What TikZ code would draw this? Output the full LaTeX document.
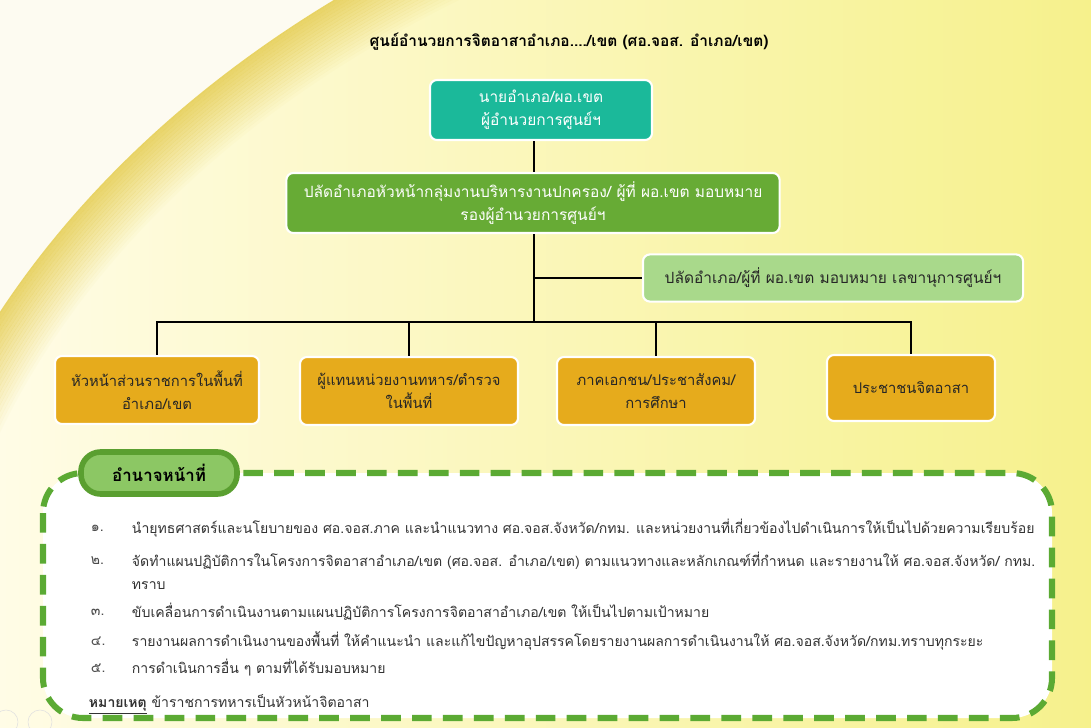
\documentclass[tikz,border=0pt]{standalone}
\usepackage{fontspec}
\newfontfamily\thaifont[Script=Thai]{Loma}
\usetikzlibrary{positioning,backgrounds}

\definecolor{paperbg}{HTML}{FDFBF1}
\definecolor{creambg}{HTML}{FFFCE6}
\definecolor{yellowbg}{HTML}{F6F18C}
\definecolor{rimgold}{HTML}{E6CF5A}
\definecolor{headteal}{HTML}{1BB99A}
\definecolor{deputygreen}{HTML}{67AB35}
\definecolor{secgreen}{HTML}{A9D98B}
\definecolor{memberorange}{HTML}{E6AB1C}
\definecolor{dashgreen}{HTML}{5BAA33}
\definecolor{pillgreen}{HTML}{8CC764}
\definecolor{pillrim}{HTML}{5A9F30}

\begin{document}
\begin{tikzpicture}[
  x=0.025cm, y=-0.025cm,
  every node/.style={font=\thaifont\fontsize{11}{16.5}\selectfont},
  unit/.style={draw=white, line width=1.5pt, rounded corners=5pt, align=center, inner sep=2pt},
  member/.style={unit, fill=memberorange, text=black!85, minimum height=1.7cm, font=\thaifont\fontsize{10.5}{16}\selectfont},
  link/.style={line width=2pt, black},
  pill/.style={draw=pillrim, fill=pillgreen, line width=4pt, rounded corners=14pt, minimum width=3.9cm, minimum height=1.05cm, font=\thaifont\bfseries\fontsize{12}{14}\selectfont},
  num/.style={anchor=west, text=black!70, font=\thaifont\fontsize{10}{12}\selectfont},
  item/.style={anchor=west, text=black!80, font=\thaifont\fontsize{10}{12}\selectfont}
]
\useasboundingbox (0,0) rectangle (1091,728);
\clip (0,0) rectangle (1091,728);

% background with the golden arc
\fill[paperbg] (0,0) rectangle (1091,728);
\begin{scope}
  \clip (1091,728) ellipse[x radius=30.5cm, y radius=23.2cm];
  \shade[left color=creambg, middle color=creambg, right color=yellowbg] (0,0) rectangle (1091,728);
  \foreach \k in {0,...,19} {
    \pgfmathsetmacro\op{0.9-0.045*\k}
    \draw[rimgold, opacity=\op, line width=2.3pt] (1091,728) ellipse[x radius=30.5cm-\k*2.2pt, y radius=23.2cm-\k*2.2pt];
  }
\end{scope}
\draw[black!12] (6,722) circle[radius=0.3cm];
\draw[black!12] (40,722) circle[radius=0.3cm];

% title
\node[font=\thaifont\bfseries\fontsize{11}{13}\selectfont] (title) at (569,42) {ศูนย์อำนวยการจิตอาสาอำเภอ..../เขต (ศอ.จอส. อำเภอ/เขต)};

% chart
\node[unit, fill=headteal, text=white, minimum width=5.55cm, minimum height=1.5cm] (head) at (541,110) {นายอำเภอ/ผอ.เขต\\ผู้อำนวยการศูนย์ฯ};
\node[unit, fill=deputygreen, text=white, minimum width=12.33cm, minimum height=1.5cm] (deputy) at (533,203) {ปลัดอำเภอหัวหน้ากลุ่มงานบริหารงานปกครอง/ ผู้ที่ ผอ.เขต มอบหมาย\\รองผู้อำนวยการศูนย์ฯ};
\node[unit, fill=secgreen, text=black!85, minimum width=9.5cm, minimum height=1.18cm] (secretary) at (833,278) {ปลัดอำเภอ/ผู้ที่ ผอ.เขต มอบหมาย เลขานุการศูนย์ฯ};

\node[member, minimum width=5.1cm] (gov) at (157,390) {หัวหน้าส่วนราชการในพื้นที่\\อำเภอ/เขต};
\node[member, minimum width=5.45cm] (army) at (409,391) {ผู้แทนหน่วยงานทหาร/ตำรวจ\\ในพื้นที่};
\node[member, minimum width=4.95cm] (civil) at (656,391) {ภาคเอกชน/ประชาสังคม/\\การศึกษา};
\node[member, minimum width=4.2cm, minimum height=1.65cm] (people) at (911,388) {ประชาชนจิตอาสา};

\coordinate (bus) at (534,322);
\draw[link] (bus |- head.south) -- (bus |- deputy.north);
\draw[link] (bus |- deputy.south) -- (bus);
\draw[link] (bus |- secretary.west) -- (secretary.west);
\draw[link] (gov.north) |- (bus) -| (people.north);
\draw[link] (army.north) -- (army.north |- bus);
\draw[link] (civil.north) -- (civil.north |- bus);

% duties
\draw[draw=dashgreen, fill=white, line width=4.3pt, dash pattern=on 14pt off 8pt, rounded corners=1cm] (43,473) rectangle (1052,718);
\node[pill] (duty) at (159,473) {อำนาจหน้าที่};

\node[num] (n1) at (86,528) {๑.};
\node[item] (t1) at (127,528) {นำยุทธศาสตร์และนโยบายของ ศอ.จอส.ภาค และนำแนวทาง ศอ.จอส.จังหวัด/กทม. และหน่วยงานที่เกี่ยวข้องไปดำเนินการให้เป็นไปด้วยความเรียบร้อย};
\node[num] (n2) at (86,561) {๒.};
\node[item] (t2) at (127,561) {จัดทำแผนปฏิบัติการในโครงการจิตอาสาอำเภอ/เขต (ศอ.จอส. อำเภอ/เขต) ตามแนวทางและหลักเกณฑ์ที่กำหนด และรายงานให้ ศอ.จอส.จังหวัด/ กทม.};
\node[item] (t2b) at (127,586) {ทราบ};
\node[num] (n3) at (86,612) {๓.};
\node[item] (t3) at (127,612) {ขับเคลื่อนการดำเนินงานตามแผนปฏิบัติการโครงการจิตอาสาอำเภอ/เขต ให้เป็นไปตามเป้าหมาย};
\node[num] (n4) at (86,641) {๔.};
\node[item] (t4) at (127,641) {รายงานผลการดำเนินงานของพื้นที่ ให้คำแนะนำ และแก้ไขปัญหาอุปสรรคโดยรายงานผลการดำเนินงานให้ ศอ.จอส.จังหวัด/กทม.ทราบทุกระยะ};
\node[num] (n5) at (86,668) {๕.};
\node[item] (t5) at (127,668) {การดำเนินการอื่น ๆ ตามที่ได้รับมอบหมาย};

\node[item] (note) at (84,704) {\underline{\textbf{หมายเหตุ}} ข้าราชการทหารเป็นหัวหน้าจิตอาสา};
\end{tikzpicture}
\end{document}
